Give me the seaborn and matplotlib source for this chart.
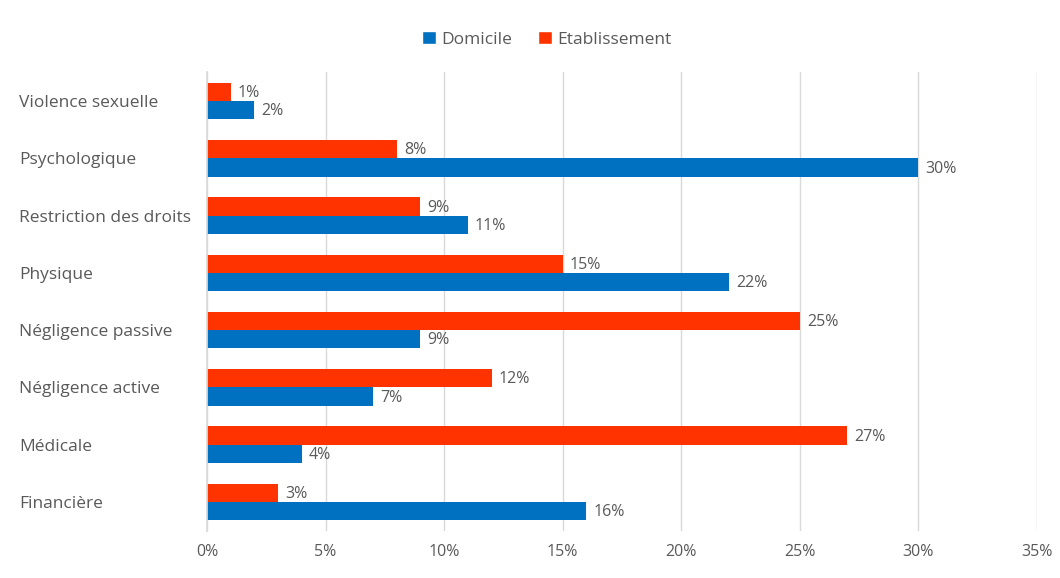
import matplotlib
matplotlib.use("Agg")
import matplotlib.pyplot as plt
import seaborn as sns
import pandas as pd
from matplotlib.patches import Patch
from matplotlib.ticker import FuncFormatter

categories = ["Violence sexuelle", "Psychologique", "Restriction des droits", "Physique",
              "Négligence passive", "Négligence active", "Médicale", "Financière"]
domicile = [2, 30, 11, 22, 9, 7, 4, 16]
etablissement = [1, 8, 9, 15, 25, 12, 27, 3]
series_names = ["Domicile", "Etablissement"]
xticks = [0, 5, 10, 15, 20, 25, 30, 35]

colors = {"Domicile": "#0070C0", "Etablissement": "#FF3300"}
text_color = "#595959"

df = pd.DataFrame({
    "cat": categories * 2,
    "val": etablissement + domicile,
    "serie": ["Etablissement"] * len(categories) + ["Domicile"] * len(categories),
})

sns.set_theme(style="white")
plt.rcParams["font.family"] = ["Open Sans", "DejaVu Sans"]

fig = plt.figure(figsize=(10.6, 5.78), dpi=100)
ax = fig.add_axes([0.1953, 0.082, 0.783, 0.7927])

sns.barplot(data=df, y="cat", x="val", hue="serie", order=categories,
            hue_order=["Etablissement", "Domicile"], palette=colors,
            orient="h", width=0.64, ax=ax, legend=False, errorbar=None,
            saturation=1, linewidth=0)

for cont in ax.containers:
    for bar in cont:
        w = bar.get_width()
        ax.text(w + 0.3, bar.get_y() + bar.get_height() / 2 + 0.02, f"{int(round(w))}%",
                va="center", ha="left", fontsize=11.5, color=text_color)

ax.set_xlim(0, 35)
ax.set_ylim(7.5, -0.5)
ax.set_xticks(xticks)
ax.xaxis.set_major_formatter(FuncFormatter(lambda v, p: f"{int(v)}%"))
ax.grid(axis="x", color="#D9D9D9", linewidth=1)
ax.set_axisbelow(True)
for s in ["top", "right", "bottom"]:
    ax.spines[s].set_visible(False)
ax.spines["left"].set_color("#D9D9D9")
ax.set_xlabel("")
ax.set_ylabel("")
ax.tick_params(axis="x", colors=text_color, labelsize=11.5, length=0, pad=10)
ax.tick_params(axis="y", colors=text_color, labelsize=12.5, length=0, pad=0)
for lbl in ax.get_yticklabels():
    lbl.set_horizontalalignment("left")
    lbl.set_transform(ax.get_yaxis_transform())
    lbl.set_position((-0.2265, lbl.get_position()[1]))

handles = [Patch(facecolor=colors[n], label=n) for n in series_names]
fig.legend(handles=handles, loc="center", bbox_to_anchor=(0.516, 0.932), ncol=2,
           frameon=False, fontsize=12.5, handlelength=0.8, handleheight=0.8,
           handletextpad=0.3, columnspacing=1.5, labelcolor=text_color)

fig.savefig("out.png", dpi=100)
